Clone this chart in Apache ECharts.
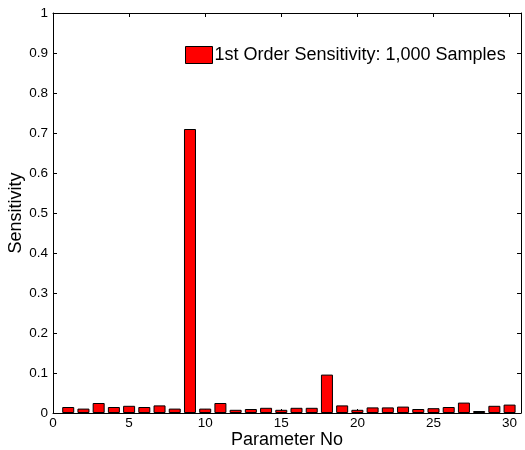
<!DOCTYPE html>
<html>
<head>
<meta charset="utf-8">
<script src="https://cdn.jsdelivr.net/npm/echarts@6/dist/echarts.min.js"></script>
<style>
html, body { margin: 0; padding: 0; background: #fff; }
#main { width: 525px; height: 450px; }
</style>
</head>
<body>
<div id="main"></div>
<script>
// parameter numbers 1..30 and their first order sensitivity
var paramNo = [1, 2, 3, 4, 5, 6, 7, 8, 9, 10, 11, 12, 13, 14, 15,
               16, 17, 18, 19, 20, 21, 22, 23, 24, 25, 26, 27, 28, 29, 30];
var sensitivity = [0.015, 0.011, 0.025, 0.015, 0.018, 0.015, 0.019, 0.011, 0.71, 0.011,
                   0.025, 0.008, 0.010, 0.013, 0.008, 0.013, 0.013, 0.096, 0.019, 0.008,
                   0.014, 0.014, 0.016, 0.010, 0.012, 0.015, 0.026, 0.005, 0.018, 0.021];
var seriesName = '1st Order Sensitivity: 1,000 Samples';

var barData = paramNo.map(function (p, i) { return [p, sensitivity[i]]; });

var font = 'Liberation Sans, Arial, Helvetica, sans-serif';
var axisLineStyle = { color: '#000', width: 1 };

var myChart = echarts.init(document.getElementById('main'));

option = {
    backgroundColor: '#fff',
    animation: false,
    textStyle: { fontFamily: font, color: '#000' },
    grid: { left: 53, right: 4, top: 13, bottom: 37, outerBoundsMode: 'none', containLabel: false },
    legend: {
        left: 185,
        top: 46,
        padding: 0,
        itemWidth: 27,
        itemHeight: 17,
        itemGap: 4,
        icon: 'rect',
        textStyle: { fontFamily: font, fontSize: 18, color: '#000', padding: [0, 0, 0, -3] },
        itemStyle: { color: '#ff0000', borderColor: '#000', borderWidth: 1 },
        data: [seriesName]
    },
    xAxis: [{
        type: 'value',
        position: 'bottom',
        min: 0,
        max: 30.75,
        interval: 5,
        name: 'Parameter No',
        nameLocation: 'middle',
        nameGap: 18,
        nameMoveOverlap: false,
        nameTextStyle: { fontFamily: font, fontSize: 18, color: '#000' },
        axisLine: { onZero: false, lineStyle: axisLineStyle },
        axisTick: { inside: true, length: 4, lineStyle: axisLineStyle },
        axisLabel: { fontFamily: font, fontSize: 13.5, color: '#000', margin: 3, showMaxLabel: false },
        splitLine: { show: false }
    }, {
        type: 'value',
        position: 'top',
        min: 0,
        max: 30.75,
        interval: 5,
        axisLine: { onZero: false, lineStyle: axisLineStyle },
        axisTick: { inside: true, length: 4, lineStyle: axisLineStyle },
        axisLabel: { show: false },
        splitLine: { show: false }
    }],
    yAxis: [{
        type: 'value',
        position: 'left',
        min: 0,
        max: 1,
        interval: 0.1,
        name: 'Sensitivity',
        nameLocation: 'middle',
        nameGap: 28,
        nameMoveOverlap: false,
        nameTextStyle: { fontFamily: font, fontSize: 18, color: '#000' },
        axisLine: { show: true, onZero: false, lineStyle: axisLineStyle },
        axisTick: { show: true, inside: true, length: 4, lineStyle: axisLineStyle },
        axisLabel: {
            fontFamily: font, fontSize: 13.5, color: '#000', margin: 5,
            formatter: function (v) { return String(Math.round(v * 10) / 10); }
        },
        splitLine: { show: false }
    }, {
        type: 'value',
        position: 'right',
        min: 0,
        max: 1,
        interval: 0.1,
        axisLine: { show: true, onZero: false, lineStyle: axisLineStyle },
        axisTick: { show: true, inside: true, length: 4, lineStyle: axisLineStyle },
        axisLabel: { show: false },
        splitLine: { show: false }
    }],
    series: [{
        name: seriesName,
        type: 'bar',
        xAxisIndex: 0,
        yAxisIndex: 0,
        barWidth: 12,
        itemStyle: { color: '#ff0000', borderColor: '#000', borderWidth: 1 },
        data: barData
    }]
};
myChart.setOption(option);
</script>
</body>
</html>
